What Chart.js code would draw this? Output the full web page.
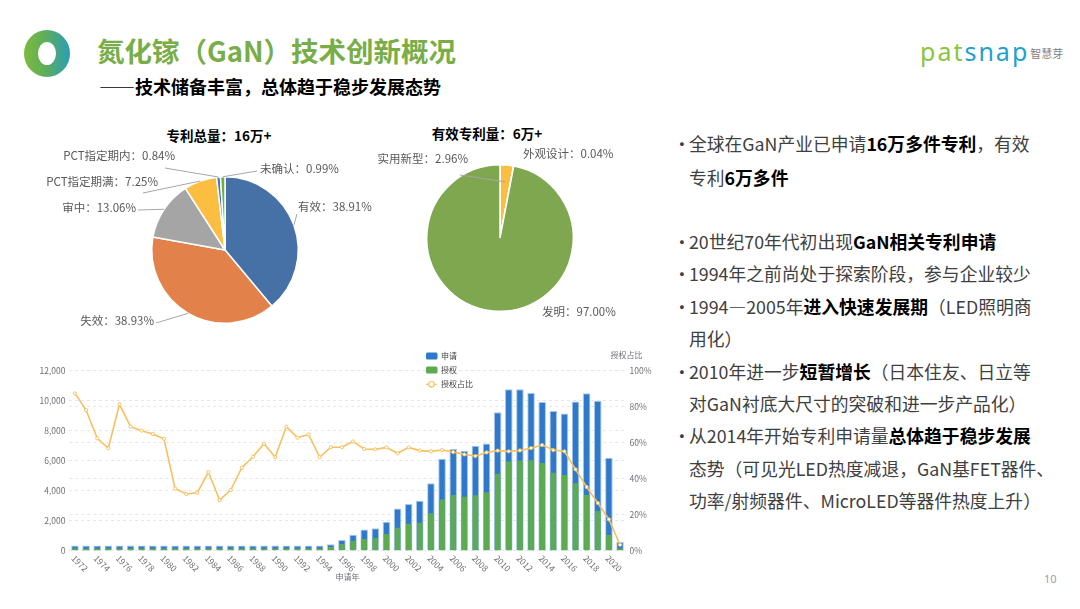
<!DOCTYPE html>
<html lang="zh-CN">
<head>
<meta charset="utf-8">
<title>氮化镓（GaN）技术创新概况</title>
<script src="https://cdn.jsdelivr.net/npm/chart.js@4.4.0/dist/chart.umd.min.js"></script>
<style>
  html, body { margin: 0; padding: 0; background: #fff; }
  body {
    width: 1080px; height: 609px; position: relative; overflow: hidden;
    font-family: "Noto Sans CJK SC", "Noto Sans", sans-serif;
  }
  .abs { position: absolute; }
  #ring {
    left: 24px; top: 30px; width: 46px; height: 47px; border-radius: 50%;
    background: linear-gradient(90deg, #7cbb3b 0%, #5fae5a 45%, #2b9db6 100%);
  }
  #ring::after {
    content: ''; position: absolute; left: 14px; top: 12px; width: 18px; height: 23px;
    border-radius: 50%; background: #fff;
  }
  #title { left: 97px; top: 35px; font-size: 27.5px; line-height: 30px; font-weight: 700; color: #78ad48; white-space: nowrap; }
  #subtitle { left: 99px; top: 76px; font-size: 18px; line-height: 20px; font-weight: 700; color: #000; white-space: nowrap; }
  #brand { left: 920px; top: 37px; font-family: "Noto Sans", sans-serif; font-size: 25px; line-height: 28px; letter-spacing: 2px; white-space: nowrap; }
  #brand .g { color: #8cc43f; }
  #brand .b { color: #22a0cf; }
  #brand small { font-family: "Noto Sans CJK SC", sans-serif; font-size: 11px; letter-spacing: 0; color: #7f7f7f; margin-left: 1px; vertical-align: 3px; }
  .pie-title { font-size: 13.5px; font-weight: 700; color: #000; white-space: nowrap; transform: translateX(-50%); line-height: 16px; }
  .notes { left: 689px; font-size: 17.8px; color: #404040; white-space: nowrap; }
  .notes p { margin: 0; position: relative; }
  .notes p::before { content: '•'; position: absolute; left: -16px; color: #404040; }
  .notes b { color: #000; font-weight: 700; }
  #page { left: 1044px; top: 571px; font-size: 11px; color: #a0a0a0; font-family: "Noto Sans", sans-serif; }
</style>
</head>
<body>

<div id="ring" class="abs"></div>
<div id="title" class="abs">氮化镓（GaN）技术创新概况</div>
<div id="subtitle" class="abs">——技术储备丰富，总体趋于稳步发展态势</div>
<div id="brand" class="abs"><span class="g">pat</span><span class="b">snap</span><small>智慧芽</small></div>

<div class="abs pie-title" style="left:219px; top:127px">专利总量：16万+</div>
<div class="abs pie-title" style="left:487px; top:125px">有效专利量：6万+</div>

<canvas id="statusPie" class="abs" width="345" height="220" style="left:40px; top:120px"></canvas>
<canvas id="typePie" class="abs" width="310" height="220" style="left:355px; top:120px"></canvas>
<canvas id="trendChart" class="abs" width="630" height="250" style="left:30px; top:340px"></canvas>

<div class="abs notes" style="top:126px; line-height:34px">
  <p>全球在GaN产业已申请<b>16万多件专利</b>，有效<br>专利<b>6万多件</b></p>
</div>
<div class="abs notes" style="top:225px; line-height:32.4px">
  <p>20世纪70年代初出现<b>GaN相关专利申请</b></p>
  <p>1994年之前尚处于探索阶段，参与企业较少</p>
  <p>1994—2005年<b>进入快速发展期</b>（LED照明商<br>用化）</p>
  <p>2010年进一步<b>短暂增长</b>（日本住友、日立等<br>对GaN衬底大尺寸的突破和进一步产品化）</p>
  <p>从2014年开始专利申请量<b>总体趋于稳步发展</b><br>态势（可见光LED热度减退，GaN基FET器件、<br>功率/射频器件、MicroLED等器件热度上升）</p>
</div>

<div id="page" class="abs">10</div>

<script>
// ---- data ----
const statusLabels = ['有效', '失效', '审中', 'PCT指定期满', 'PCT指定期内', '未确认'];
const statusShares = [38.91, 38.93, 13.06, 7.25, 0.84, 0.99];

const typeLabels = ['实用新型', '外观设计', '发明'];
const typeShares = [2.96, 0.04, 97.00];

const years = [
    '1972', '1973', '1974', '1975', '1976', '1977', '1978', '1979', '1980', '1981',
    '1982', '1983', '1984', '1985', '1986', '1987', '1988', '1989', '1990', '1991',
    '1992', '1993', '1994', '1995', '1996', '1997', '1998', '1999', '2000', '2001',
    '2002', '2003', '2004', '2005', '2006', '2007', '2008', '2009', '2010', '2011',
    '2012', '2013', '2014', '2015', '2016', '2017', '2018', '2019', '2020', '2021'
];
// 申请
const applyCounts = [
    350, 350, 350, 350, 350, 350, 350, 350, 350, 350,
    350, 350, 350, 350, 350, 350, 350, 350, 350, 350,
    350, 350, 350, 430, 710, 1060, 1420, 1490, 1930, 2820,
    3110, 3330, 4490, 6130, 6780, 6670, 7000, 7140, 9230, 10770,
    10770, 10520, 9920, 9320, 9140, 9940, 10490, 9990, 6190, 580
];
// 授权
const grantCounts = [
    150, 150, 150, 150, 150, 150, 150, 150, 150, 150,
    150, 150, 150, 150, 150, 150, 150, 150, 150, 150,
    150, 150, 150, 250, 450, 650, 780, 840, 1110, 1530,
    1800, 1870, 2490, 3420, 3710, 3600, 3690, 3890, 5130, 5940,
    6010, 6030, 5840, 5200, 5040, 4490, 3710, 2640, 1050, 150
];
// 授权占比 (%)
const grantRatio = [
    87.4, 78.1, 62.4, 56.9, 81.3, 68.9, 66.7, 64.8, 62.2, 34.6,
    31.5, 32.2, 43.7, 28.1, 33.7, 46.1, 52.2, 59.4, 51.9, 68.9,
    62.8, 64.6, 51.9, 57.5, 57.5, 60.7, 56.5, 56.3, 57.4, 54.1,
    57.4, 55.6, 55.2, 55.9, 54.8, 53.5, 52.6, 54.6, 55.6, 55.2,
    55.7, 57.0, 58.7, 55.9, 55.2, 45.2, 35.4, 26.5, 17.4, 3.3
];

const CJK = '"Noto Sans CJK SC", "Noto Sans", sans-serif';
const AXIS_GREY = '#6e7079';

// Pie labels with leader lines, placed around the pie centre (offsets in px)
const pieLabelPlugin = {
    id: 'pieLabels',
    afterDatasetsDraw(chart, args, opts) {
        const ctx = chart.ctx;
        const meta = chart.getDatasetMeta(0);
        const labels = chart.data.labels;
        const values = chart.data.datasets[0].data;
        ctx.save();
        ctx.font = '11.5px ' + CJK;
        ctx.textBaseline = 'middle';
        meta.data.forEach((arc, i) => {
            const p = opts.layout[i];
            if (!p) return;
            const a = arc.getProps(['x', 'y', 'startAngle', 'endAngle', 'outerRadius'], true);
            const mid = (a.startAngle + a.endAngle) / 2;
            if (p.line) {
                const r = a.outerRadius * (p.reach || 1);
                ctx.strokeStyle = '#a6a6a6';
                ctx.lineWidth = 1;
                ctx.beginPath();
                ctx.moveTo(a.x + p.line[0], a.y + p.line[1]);
                ctx.lineTo(a.x + Math.cos(mid) * r, a.y + Math.sin(mid) * r);
                ctx.stroke();
            }
            ctx.fillStyle = '#595959';
            ctx.textAlign = p.align;
            ctx.fillText(labels[i] + '：' + values[i].toFixed(2) + '%', a.x + p.dx, a.y + p.dy);
        });
        ctx.restore();
    }
};

function makePie(id, labels, data, colors, padding, layout) {
    return new Chart(document.getElementById(id), {
        type: 'pie',
        data: {
            labels: labels,
            datasets: [{
                data: data,
                backgroundColor: colors,
                borderColor: '#ffffff',
                borderWidth: 1.5
            }]
        },
        options: {
            responsive: false,
            animation: false,
            events: [],
            layout: { padding: padding },
            plugins: {
                legend: { display: false },
                tooltip: { enabled: false },
                pieLabels: { layout: layout }
            }
        },
        plugins: [pieLabelPlugin]
    });
}

makePie('statusPie', statusLabels, statusShares,
    ['#4571a6', '#e2814a', '#a5a5a5', '#fbbe40', '#4472c4', '#70ad47'],
    { left: 111, right: 86, top: 56, bottom: 16 },
    [
        { dx: 73, dy: -43, align: 'left', line: [72, -36] },
        { dx: -71, dy: 71, align: 'right', line: [-69, 73] },
        { dx: -89, dy: -42, align: 'right', line: [-87, -40] },
        { dx: -67, dy: -68, align: 'right', line: [-82, -57] },
        { dx: -50, dy: -94, align: 'right', line: [-60, -82] },
        { dx: 35, dy: -81, align: 'left', line: [32, -79] }
    ]);

makePie('typePie', typeLabels, typeShares,
    ['#fbbe40', '#4472c4', '#7ea750'],
    { left: 71, right: 91, top: 44, bottom: 28 },
    [
        { dx: -32, dy: -79, align: 'right', line: [-40, -63], reach: 0.77 },
        { dx: 23, dy: -84, align: 'left' },
        { dx: 42, dy: 74, align: 'left' }
    ]);

// Legend, rotated year labels and axis names for the trend chart
const trendDecorPlugin = {
    id: 'trendDecor',
    afterDraw(chart) {
        const ctx = chart.ctx;
        const xs = chart.scales.x;
        const y1 = chart.scales.y1;
        ctx.save();
        ctx.fillStyle = AXIS_GREY;

        // year ticks, every second one, turned 45deg clockwise
        ctx.font = '8.5px ' + CJK;
        ctx.textAlign = 'left';
        ctx.textBaseline = 'middle';
        chart.data.labels.forEach((lab, i) => {
            if (i % 2) return;
            ctx.save();
            ctx.translate(xs.getPixelForValue(i) - 2, xs.top + 6);
            ctx.rotate(Math.PI / 4);
            ctx.fillText(lab, 0, 0);
            ctx.restore();
        });

        ctx.font = '8px ' + CJK;
        ctx.textAlign = 'center';
        ctx.fillText('申请年', (xs.left + xs.right) / 2, xs.top + 26.5);
        ctx.fillText('授权占比', y1.left + 1, chart.chartArea.top - 15.5);

        // legend
        const lx = 396;
        const rows = [16, 30, 44.3];
        ctx.textAlign = 'left';
        chart.data.datasets.forEach((ds, i) => {
            const cy = rows[i];
            if (ds.type === 'line') {
                ctx.strokeStyle = ds.borderColor;
                ctx.lineWidth = 1.2;
                ctx.beginPath();
                ctx.moveTo(lx, cy);
                ctx.lineTo(lx + 11, cy);
                ctx.stroke();
                ctx.fillStyle = '#fff';
                ctx.beginPath();
                ctx.arc(lx + 5.5, cy, 2.8, 0, Math.PI * 2);
                ctx.fill();
                ctx.stroke();
            } else {
                ctx.fillStyle = ds.backgroundColor;
                ctx.beginPath();
                ctx.roundRect(lx, cy - 3.5, 11.5, 7, 1.5);
                ctx.fill();
            }
            ctx.fillStyle = '#444';
            ctx.fillText(ds.label, lx + 15, cy);
        });
        ctx.restore();
    }
};

new Chart(document.getElementById('trendChart'), {
    data: {
        labels: years,
        datasets: [
            {
                type: 'bar',
                label: '申请',
                data: applyCounts,
                yAxisID: 'y',
                backgroundColor: '#2e79c9',
                borderColor: '#a9c6ec',
                borderWidth: 1,
                barPercentage: 0.68,
                categoryPercentage: 1,
                grouped: false,
                order: 3
            },
            {
                type: 'bar',
                label: '授权',
                data: grantCounts,
                yAxisID: 'y',
                backgroundColor: '#5cab50',
                barPercentage: 0.5,
                categoryPercentage: 1,
                grouped: false,
                order: 2
            },
            {
                type: 'line',
                label: '授权占比',
                data: grantRatio,
                yAxisID: 'y1',
                borderColor: '#f5c15f',
                borderWidth: 1.6,
                tension: 0,
                pointRadius: 1.6,
                pointBackgroundColor: '#ffffff',
                pointBorderColor: '#f5c15f',
                pointBorderWidth: 1,
                order: 1
            }
        ]
    },
    options: {
        responsive: false,
        animation: false,
        events: [],
        layout: { padding: { top: 30.7, left: 0, right: 0, bottom: 0 } },
        plugins: {
            legend: { display: false },
            tooltip: { enabled: false }
        },
        scales: {
            x: {
                ticks: { display: false },
                grid: { display: false },
                border: { display: false },
                afterFit(scale) { scale.height = 39.3; }
            },
            y: {
                position: 'left',
                min: 0,
                max: 12000,
                ticks: {
                    stepSize: 2000,
                    padding: 4,
                    color: AXIS_GREY,
                    font: { size: 8.5, family: CJK },
                    callback: v => v.toLocaleString('en-US')
                },
                grid: { color: '#e4e7ee', drawTicks: false },
                border: { display: false, dash: [3, 3] },
                afterFit(scale) { scale.width = 39.4; }
            },
            y1: {
                position: 'right',
                min: 0,
                max: 100,
                ticks: {
                    stepSize: 20,
                    padding: 4,
                    color: AXIS_GREY,
                    font: { size: 8.5, family: CJK },
                    callback: v => v + '%'
                },
                grid: { color: '#e4e7ee', drawTicks: false },
                border: { display: false, dash: [3, 3] },
                afterFit(scale) { scale.width = 34.4; }
            }
        }
    },
    plugins: [trendDecorPlugin]
});
</script>
</body>
</html>
